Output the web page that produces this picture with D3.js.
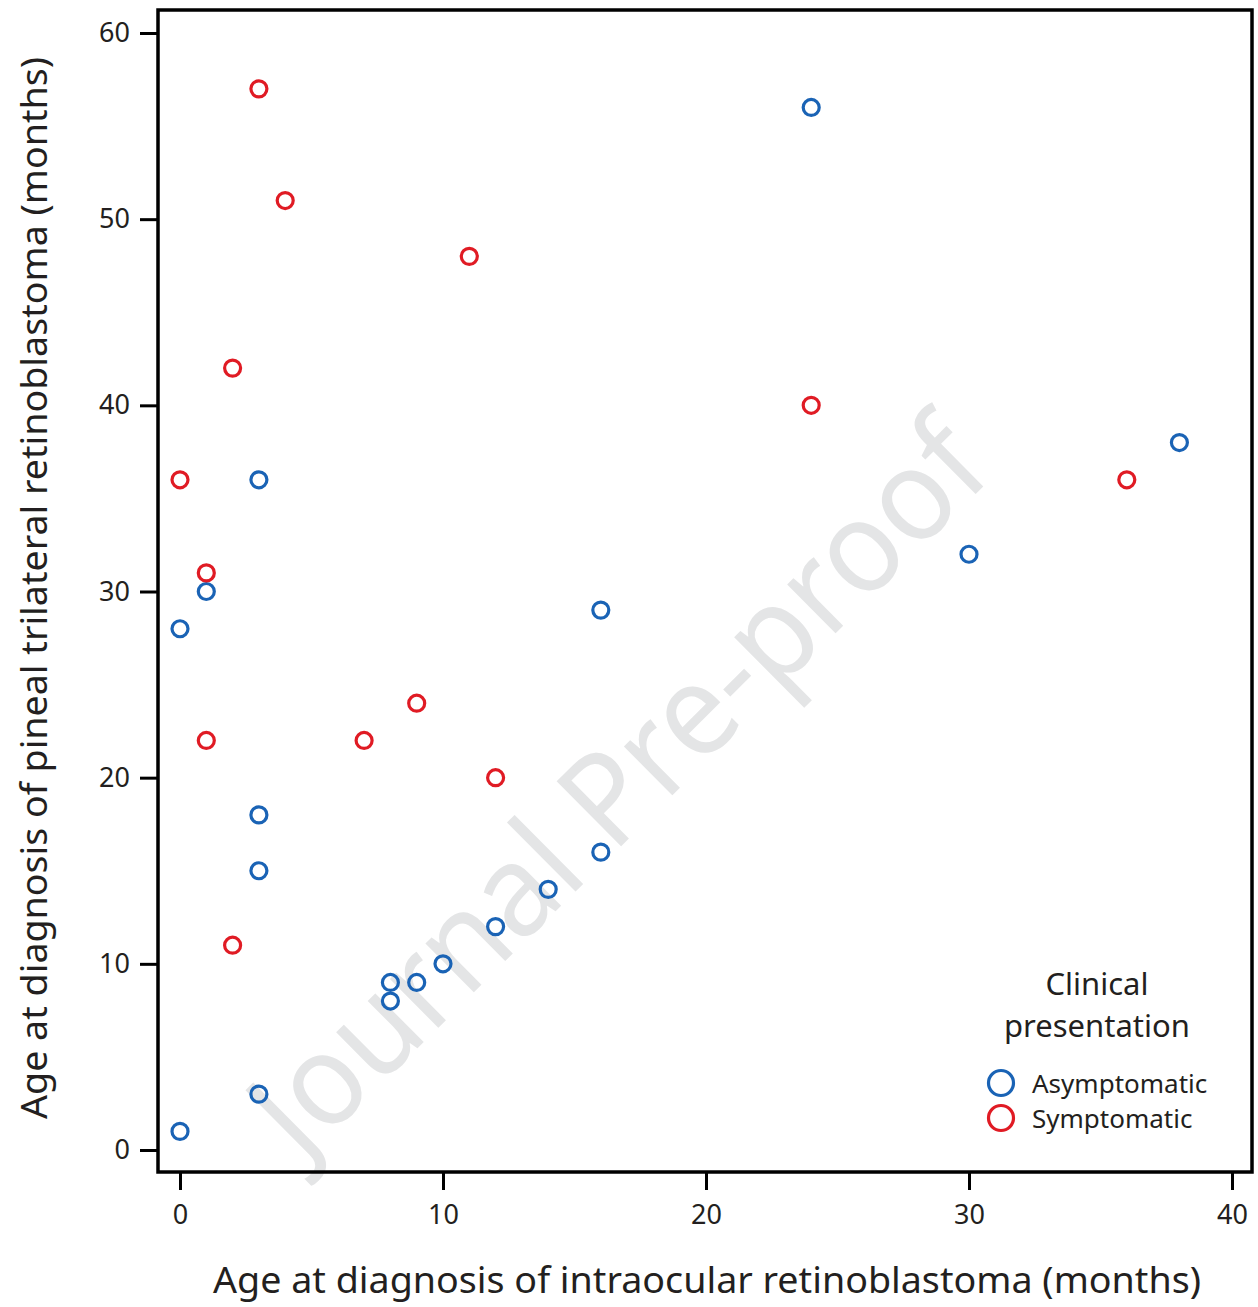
<!DOCTYPE html>
<html><head><meta charset="utf-8">
<script src="https://cdn.jsdelivr.net/npm/d3@7"></script>
<style>body{margin:0;background:#fff}svg{display:block}text{font-family:"Noto Sans",sans-serif;fill:#231f20}</style>
</head><body>
<script>
const asymX = [24,38,30,3,1,0,16,3,3,16,14,12,10,9,8,8,3,0];
const asymY = [56,38,32,36,30,28,29,18,15,16,14,12,10,9,9,8,3,1];
const sympX = [3,4,11,2,24,0,36,1,1,7,9,12,2];
const sympY = [57,51,48,42,40,36,36,31,22,22,24,20,11];
const xTicks = [0,10,20,30,40];
const yTicks = [0,10,20,30,40,50,60];
const seriesNames = ["Asymptomatic","Symptomatic"];
const colors = ["#1a63b5","#e01b24"];

const W=1258,H=1307;
const svg=d3.select("body").append("svg").attr("width",W).attr("height",H);
const x=d3.scaleLinear().domain([0,40]).range([180,1232]);
const y=d3.scaleLinear().domain([0,60]).range([1150,33]);
const L=158,R=1252,T=10,B=1172;

// watermark
svg.append("text").text("Journal Pre-proof")
  .attr("transform","translate(302,1163) rotate(-44.8)")
  .attr("textLength",978).attr("lengthAdjust","spacingAndGlyphs")
  .style("font-size","128px").style("fill","#e4e5e6");

// axes
const ga=svg.append("g").attr("transform",`translate(${L},0)`)
  .call(d3.axisLeft(y).tickValues(yTicks).tickSize(18).tickPadding(10));
const gb=svg.append("g").attr("transform",`translate(0,${B})`)
  .call(d3.axisBottom(x).tickValues(xTicks).tickSize(18).tickPadding(15));
[ga,gb].forEach(g=>{g.select(".domain").remove();
  g.selectAll("line").attr("stroke","#000").attr("stroke-width",3);
  g.selectAll("text").style("font-size","27px").style("font-family","'Noto Sans',sans-serif").attr("fill","#231f20");});

svg.append("rect").attr("x",L).attr("y",T).attr("width",R-L).attr("height",B-T)
  .attr("fill","none").attr("stroke","#000").attr("stroke-width",3.5);

const pts=[];
asymX.forEach((v,i)=>pts.push({x:v,y:asymY[i],s:0}));
sympX.forEach((v,i)=>pts.push({x:v,y:sympY[i],s:1}));
svg.append("g").selectAll("circle").data(pts).join("circle")
  .attr("cx",d=>x(d.x)).attr("cy",d=>y(d.y)).attr("r",8)
  .attr("fill","none").attr("stroke",d=>colors[d.s]).attr("stroke-width",3.2);

// axis titles
svg.append("text").text("Age at diagnosis of intraocular retinoblastoma (months)")
  .attr("x",707).attr("y",1293).attr("text-anchor","middle")
  .attr("textLength",988).attr("lengthAdjust","spacingAndGlyphs").style("font-size","36px");
svg.append("text").text("Age at diagnosis of pineal trilateral retinoblastoma (months)")
  .attr("transform","translate(47,588) rotate(-90)").attr("text-anchor","middle")
  .attr("textLength",1062).attr("lengthAdjust","spacingAndGlyphs").style("font-size","36px");

// legend
svg.append("text").text("Clinical").attr("x",1097).attr("y",995).attr("text-anchor","middle").style("font-size","31px");
svg.append("text").text("presentation").attr("x",1097).attr("y",1037).attr("text-anchor","middle").style("font-size","31px");
const lg=svg.append("g").selectAll("g").data(seriesNames).join("g")
  .attr("transform",(d,i)=>`translate(1001,${1083+i*35})`);
lg.append("circle").attr("r",12.5).attr("fill","none").attr("stroke",(d,i)=>colors[i]).attr("stroke-width",3.2);
lg.append("text").text(d=>d).attr("x",31).attr("y",10).style("font-size","26px");
</script>
</body></html>
